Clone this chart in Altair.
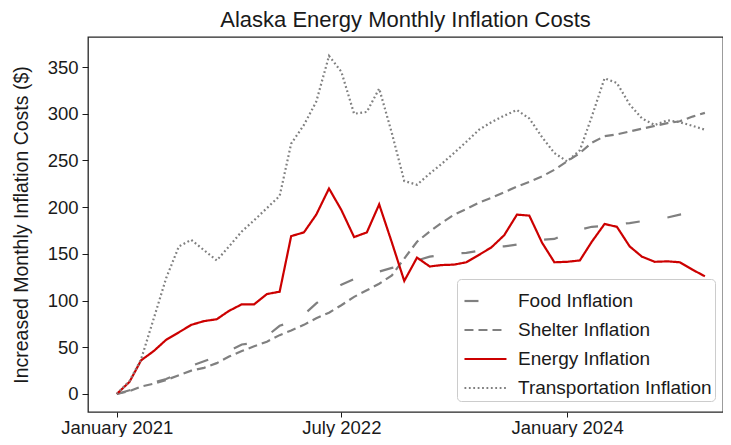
import altair as alt
import pandas as pd

# Monthly observations, January 2021 .. December 2024
months = pd.date_range("2021-01-01", periods=48, freq="MS").strftime("%Y-%m-%dT00:00:00").tolist()

food = [0, 4, 8, 12.5, 16, 22, 30, 35, 40, 46, 53, 54.5, 62, 73, 77, 85, 97, 108, 117, 123,
        127, 131, 135, 138, 143, 147, 149, 150.5, 151, 153.5, 157.5, 158, 160, 163, 165, 166,
        172, 176, 179, 180, 181.5, 183, 185, 186.5, 189, 192, 194, 196]
shelter = [0, 3, 8, 11, 15, 20, 25, 28, 33, 40, 46, 51, 56, 63, 68, 74, 81, 87, 95, 104,
           111, 118, 127, 145, 163, 174, 183, 192, 198, 205, 210, 216, 222, 227, 233, 240,
           249, 258, 269, 276, 278, 281, 284, 287, 290, 292, 297, 301]
energy = [0, 13, 36, 46, 58, 66, 74, 78, 80, 89, 96, 96, 107, 109.5, 169, 173, 192, 220, 197, 168,
          173, 203, 162, 121, 146, 136.5, 138, 138.5, 141, 149, 157, 170, 192, 191, 162, 141,
          141.5, 143, 163, 182, 179, 158, 147, 141.5, 142, 141, 133, 126]
transport = [0, 14, 37, 81, 124, 158, 165, 154, 143, 158, 174, 186, 199, 212, 268, 288, 313, 362,
             345, 300, 302, 327, 279, 228, 224, 236, 246, 258, 270, 283, 291, 298, 304, 295, 275,
             258, 249, 261, 297, 338, 333, 310, 295, 288, 293, 291, 287, 283]

series_names = ["Food Inflation", "Shelter Inflation", "Energy Inflation", "Transportation Inflation"]
series_values = [food, shelter, energy, transport]
colors = ["#808080", "#808080", "#cc0000", "#808080"]
dashes = [[14, 28], [9, 5], [1, 0], [1.8, 2.6]]

y_ticks = [0, 50, 100, 150, 200, 250, 300, 350]
x_ticks = [alt.DateTime(year=2021, month=1, date=1),
           alt.DateTime(year=2022, month=7, date=1),
           alt.DateTime(year=2024, month=1, date=1)]

rows = []
for name, vals in zip(series_names, series_values):
    for m, v in zip(months, vals):
        rows.append({"date": m, "value": v, "series": name})
df = pd.DataFrame(rows)

FONT = "Liberation Sans"
TXT = "#1a1a1a"

legend = alt.Legend(
    title=None, orient="none", legendX=369, legendY=242,
    symbolType="M-0.83,0H1.57", symbolSize=1225, symbolStrokeWidth=2.2,
    labelFontSize=19, labelFont=FONT, labelColor=TXT, labelOffset=20,
    fillColor="white", strokeColor="#cccccc", cornerRadius=4, padding=3,
    rowPadding=0, labelLimit=400,
)

chart = alt.Chart(df).mark_line(strokeWidth=2.2, strokeCap="butt").encode(
    x=alt.X("date:T",
            scale=alt.Scale(domain=[alt.DateTime(year=2020, month=10, date=23),
                                    alt.DateTime(year=2025, month=1, date=14)]),
            axis=alt.Axis(values=x_ticks, format="%B %Y", title=None, labelFontSize=18.5,
                          labelFont=FONT, labelColor=TXT, tickSize=5, tickColor=TXT,
                          labelPadding=1, domain=False, grid=False, labelFlush=False)),
    y=alt.Y("value:Q",
            scale=alt.Scale(domain=[-19.3, 382.2], nice=False, zero=False),
            axis=alt.Axis(values=y_ticks, title="Increased Monthly Inflation Costs ($)",
                          titleFontSize=19.5, titleFont=FONT, titleColor=TXT, titleFontWeight="normal",
                          labelFontSize=18.5, labelFont=FONT, labelColor=TXT, tickSize=6,
                          tickColor=TXT, labelPadding=4, domain=False, grid=False, titlePadding=16)),
    color=alt.Color("series:N", scale=alt.Scale(domain=series_names, range=colors), legend=legend),
    strokeDash=alt.StrokeDash("series:N", scale=alt.Scale(domain=series_names, range=dashes), legend=legend),
).properties(
    width=635, height=375,
    padding={"left": 80, "top": 29, "right": 0, "bottom": 25},
    autosize=alt.AutoSizeParams(type="none"),
    title=alt.TitleParams("Alaska Energy Monthly Inflation Costs", fontSize=22, font=FONT,
                          fontWeight="normal", color=TXT, offset=5),
).configure_view(stroke="#262626", strokeWidth=1.3)

chart.save("out.html", embed_options={"renderer": "svg", "actions": False})
